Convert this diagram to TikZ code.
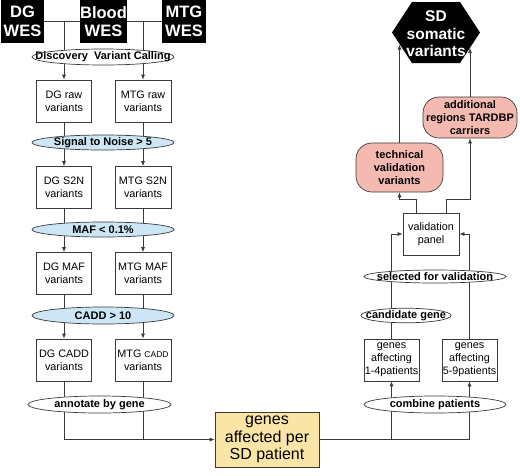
\documentclass[tikz,border=0pt]{standalone}
\usepackage{fontspec}
\setmainfont{Liberation Sans}
\usetikzlibrary{shapes.geometric,arrows.meta,backgrounds}
\definecolor{lineC}{HTML}{3A3A3A}
\definecolor{blueF}{HTML}{CDE6F5}
\definecolor{salmonF}{HTML}{F4BAB2}
\definecolor{yellowF}{HTML}{FBE5A6}
\newcommand\zw[1]{\makebox[0pt]{#1}}
\tikzset{
  box/.style={draw=lineC, line width=0.7pt, fill=white, minimum width=55, minimum height=42, inner sep=0.5pt, align=center, font=\fontsize{10.8}{13}\selectfont},
  ell/.style={ellipse, draw=lineC, line width=0.7pt, fill=white, inner sep=0pt, font=\bfseries\fontsize{11}{12}\selectfont},
  bell/.style={ell, fill=blueF},
  blk/.style={fill=black, text=white, font=\bfseries\fontsize{16.5}{18.5}\selectfont, align=center, minimum width=43, minimum height=43, inner sep=0pt},
  pill/.style={draw=lineC, line width=0.7pt, fill=salmonF, rounded corners=16pt, align=center, inner sep=0pt, font=\bfseries\fontsize{11}{13}\selectfont},
  conn/.style={draw=lineC, line width=0.7pt},
  arr/.style={conn, -{Latex[length=5pt,width=4pt]}}
}
\begin{document}
\begin{tikzpicture}[x=1pt,y=-1pt]
\useasboundingbox (0,0) rectangle (520,475);
% top sources
\node[blk] (dgwes) at (22.5,21.5) {DG\\WES};
\node[blk] (bloodwes) at (103.5,21.5) {Blood\\WES};
\node[blk, minimum width=44] (mtgwes) at (184,21.5) {MTG\\WES};
\coordinate (j1) at (64,21.5);
\coordinate (j2) at (143,21.5);
% left pipeline
\node[ell, minimum width=142, minimum height=16] (disc) at (103,57) {\zw{Discovery\ \ Variant Calling}};
\node[box] (dgraw) at (64,101) {DG raw\\variants};
\node[box, minimum width=56] (mtgraw) at (143,101) {MTG raw\\variants};
\node[bell, minimum width=142, minimum height=15] (s2n) at (103,142.5) {\zw{Signal to Noise > 5}};
\node[box] (dgs2n) at (64,187.5) {DG S2N\\variants};
\node[box, minimum width=56] (mtgs2n) at (143,187.5) {MTG S2N\\variants};
\node[bell, minimum width=142, minimum height=15] (maf) at (103,229.5) {\zw{MAF < 0.1\%}};
\node[box] (dgmaf) at (64,273.5) {DG MAF\\variants};
\node[box, minimum width=56] (mtgmaf) at (143,273.5) {MTG MAF\\variants};
\node[bell, minimum width=142, minimum height=17] (cadd) at (103,315.5) {\zw{CADD > 10}};
\node[box] (dgcadd) at (64,360) {DG CADD\\variants};
\node[box, minimum width=56] (mtgcadd) at (143,360) {MTG {\fontsize{8.5}{8}\selectfont CADD}\\variants};
\node[ell, minimum width=143, minimum height=17] (annot) at (99.5,404.5) {\zw{annotate by gene}};
% centre
\node[draw=lineC, line width=0.7pt, fill=yellowF, minimum width=104, minimum height=55, inner sep=0pt, align=center, font=\fontsize{16}{17.5}\selectfont] (genes) at (267,439.5) {genes\\affected per\\SD patient};
% right pipeline
\node[ell, minimum width=142, minimum height=17] (comb) at (435,404.5) {\zw{combine patients}};
\node[box] (g14) at (391.5,360) {genes\\affecting\\\zw{1-4patients}};
\node[box] (g59) at (469.5,360) {genes\\affecting\\\zw{5-9patients}};
\node[ell, minimum width=90, minimum height=13] (cand) at (406,315.5) {\zw{candidate gene}};
\node[ell, minimum width=142, minimum height=13] (sel) at (435,276.5) {\zw{selected for validation}};
\node[box, minimum width=56] (panel) at (431,234) {validation\\panel};
\node[pill, minimum width=87, minimum height=49] (tech) at (399.5,167.5) {technical\\validation\\variants};
\node[pill, minimum width=94, minimum height=41] (addl) at (470,117.5) {additional\\regions TARDBP\\carriers};
% hexagon
\fill[black] (392,32.5) -- (412,2) -- (460,2) -- (480,32.5) -- (460,63) -- (412,63) -- cycle;
\node[text=white, align=center, inner sep=0pt, font=\bfseries\fontsize{15.5}{17.5}\selectfont] (hex) at (436,34) {SD\\somatic\\variants};
\coordinate (hl) at (399.5,44.5);
\coordinate (hr) at (470,48);
\begin{pgfonlayer}{background}
\draw[conn] (dgwes.east) -- (mtgwes.west);
\draw[arr] (j1) -- (dgraw);
\draw[arr] (j2) -- (mtgraw);
\draw[arr] (dgraw) -- (dgs2n);
\draw[arr] (mtgraw) -- (mtgs2n);
\draw[arr] (dgs2n) -- (dgmaf);
\draw[arr] (mtgs2n) -- (mtgmaf);
\draw[arr] (dgmaf) -- (dgcadd);
\draw[arr] (mtgmaf) -- (mtgcadd);
\draw[arr] (dgcadd.south) -- (dgcadd.south |- genes.west) -- (genes.west);
\draw[conn] (mtgcadd.south) -- (mtgcadd.south |- genes.west);
\draw[conn] (genes.east) -- (genes.east -| g59);
\draw[arr] (genes.east -| g14) -- (g14.south);
\draw[arr] (genes.east -| g59) -- (g59.south);
\draw[arr] (g14.north) -- (g14.north |- panel.west) -- (panel.west);
\draw[arr] (g59.north) -- (g59.north |- panel.east) -- (panel.east);
\draw[arr] ([xshift=-15pt]panel.north) -- ([xshift=-15pt,yshift=13pt]panel.north) -- ([yshift=13pt]panel.north -| tech.south) -- (tech.south);
\draw[arr] ([xshift=15pt]panel.north) -- ([xshift=15pt,yshift=13pt]panel.north) -- ([yshift=13pt]panel.north -| addl.south) -- (addl.south);
\end{pgfonlayer}
\draw[arr] (tech.north) -- (hl);
\draw[arr] (addl.north) -- (hr);
\end{tikzpicture}
\end{document}
